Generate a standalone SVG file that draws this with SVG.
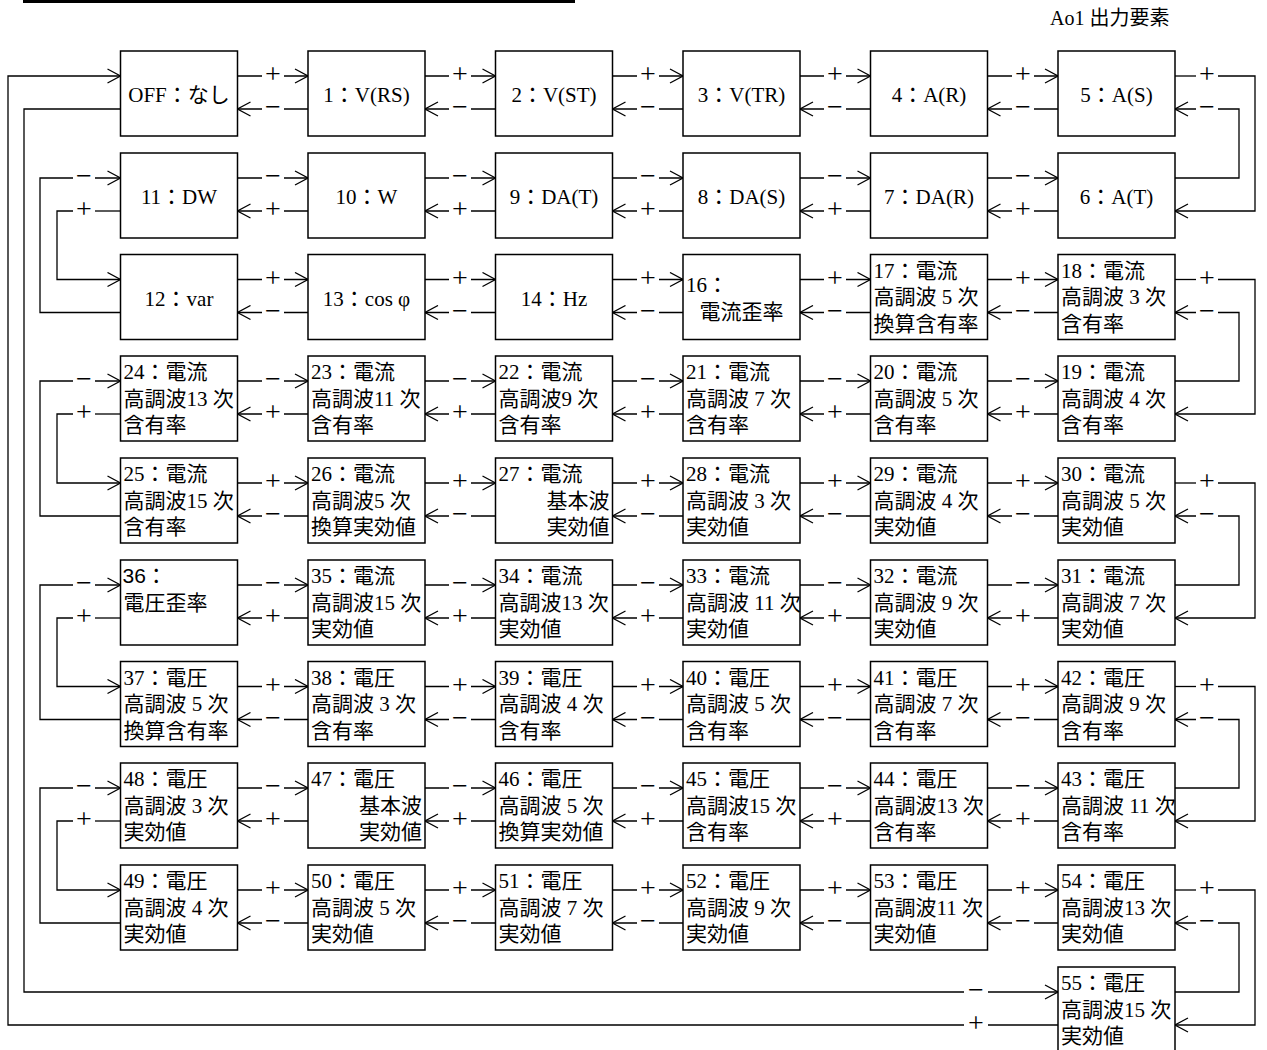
<svg xmlns="http://www.w3.org/2000/svg" width="1267" height="1050" viewBox="0 0 1267 1050">
<style>
.box{fill:#fff;stroke:#000;stroke-width:1.5}
.t{font-family:"Liberation Serif","Noto Sans CJK JP",serif;font-size:21px;fill:#000}
.c{text-anchor:middle}
.r{text-anchor:end}
.ln{fill:none;stroke:#000;stroke-width:1.3}
.a{marker-end:url(#ah)}
.lb{font-family:"Liberation Serif","DejaVu Serif",serif;font-size:28px;text-anchor:middle;fill:#000}
.sans{font-family:"Liberation Sans",sans-serif}
</style>
<defs>
<marker id="ah" markerUnits="userSpaceOnUse" markerWidth="16" markerHeight="16" viewBox="0 0 16 16" refX="15" refY="8" orient="auto"><path d="M2,1 L15,8 L2,15" fill="none" stroke="#000" stroke-width="1.3"/></marker>
</defs>
<rect x="0" y="0" width="1267" height="1050" fill="#fff"/>
<line x1="23" y1="1.5" x2="575" y2="1.5" stroke="#000" stroke-width="3"/>
<text class="t" x="1050" y="25" style="font-size:20px">Ao1 出力要素</text>

<g id="connectors">
<!-- row 0 -->
<path class="ln a" d="M237.5,76H262M284,76H308"/><path class="ln a" d="M425,76H449M471,76H495.5"/><path class="ln a" d="M612.5,76H637M659,76H683"/><path class="ln a" d="M800,76H824M846,76H870.5"/><path class="ln a" d="M987.5,76H1012M1034,76H1058"/>
<path class="ln a" d="M308,109H284M262,109H237.5"/><path class="ln a" d="M495.5,109H471M449,109H425"/><path class="ln a" d="M683,109H659M637,109H612.5"/><path class="ln a" d="M870.5,109H846M824,109H800"/><path class="ln a" d="M1058,109H1034M1012,109H987.5"/>
<text class="lb" x="273" y="83">+</text><text class="lb" x="460" y="83">+</text><text class="lb" x="648" y="83">+</text><text class="lb" x="835" y="83">+</text><text class="lb" x="1023" y="83">+</text>
<text class="lb" x="273" y="116">−</text><text class="lb" x="460" y="116">−</text><text class="lb" x="648" y="116">−</text><text class="lb" x="835" y="116">−</text><text class="lb" x="1023" y="116">−</text>
<!-- row 1 -->
<path class="ln a" d="M237.5,178H262M284,178H308"/><path class="ln a" d="M425,178H449M471,178H495.5"/><path class="ln a" d="M612.5,178H637M659,178H683"/><path class="ln a" d="M800,178H824M846,178H870.5"/><path class="ln a" d="M987.5,178H1012M1034,178H1058"/>
<path class="ln a" d="M308,211H284M262,211H237.5"/><path class="ln a" d="M495.5,211H471M449,211H425"/><path class="ln a" d="M683,211H659M637,211H612.5"/><path class="ln a" d="M870.5,211H846M824,211H800"/><path class="ln a" d="M1058,211H1034M1012,211H987.5"/>
<text class="lb" x="273" y="185">−</text><text class="lb" x="460" y="185">−</text><text class="lb" x="648" y="185">−</text><text class="lb" x="835" y="185">−</text><text class="lb" x="1023" y="185">−</text>
<text class="lb" x="273" y="218">+</text><text class="lb" x="460" y="218">+</text><text class="lb" x="648" y="218">+</text><text class="lb" x="835" y="218">+</text><text class="lb" x="1023" y="218">+</text>
<!-- row 2 -->
<path class="ln a" d="M237.5,279.5H262M284,279.5H308"/><path class="ln a" d="M425,279.5H449M471,279.5H495.5"/><path class="ln a" d="M612.5,279.5H637M659,279.5H683"/><path class="ln a" d="M800,279.5H824M846,279.5H870.5"/><path class="ln a" d="M987.5,279.5H1012M1034,279.5H1058"/>
<path class="ln a" d="M308,312.5H284M262,312.5H237.5"/><path class="ln a" d="M495.5,312.5H471M449,312.5H425"/><path class="ln a" d="M683,312.5H659M637,312.5H612.5"/><path class="ln a" d="M870.5,312.5H846M824,312.5H800"/><path class="ln a" d="M1058,312.5H1034M1012,312.5H987.5"/>
<text class="lb" x="273" y="286.5">+</text><text class="lb" x="460" y="286.5">+</text><text class="lb" x="648" y="286.5">+</text><text class="lb" x="835" y="286.5">+</text><text class="lb" x="1023" y="286.5">+</text>
<text class="lb" x="273" y="319.5">−</text><text class="lb" x="460" y="319.5">−</text><text class="lb" x="648" y="319.5">−</text><text class="lb" x="835" y="319.5">−</text><text class="lb" x="1023" y="319.5">−</text>
<!-- row 3 -->
<path class="ln a" d="M237.5,381H262M284,381H308"/><path class="ln a" d="M425,381H449M471,381H495.5"/><path class="ln a" d="M612.5,381H637M659,381H683"/><path class="ln a" d="M800,381H824M846,381H870.5"/><path class="ln a" d="M987.5,381H1012M1034,381H1058"/>
<path class="ln a" d="M308,414H284M262,414H237.5"/><path class="ln a" d="M495.5,414H471M449,414H425"/><path class="ln a" d="M683,414H659M637,414H612.5"/><path class="ln a" d="M870.5,414H846M824,414H800"/><path class="ln a" d="M1058,414H1034M1012,414H987.5"/>
<text class="lb" x="273" y="388">−</text><text class="lb" x="460" y="388">−</text><text class="lb" x="648" y="388">−</text><text class="lb" x="835" y="388">−</text><text class="lb" x="1023" y="388">−</text>
<text class="lb" x="273" y="421">+</text><text class="lb" x="460" y="421">+</text><text class="lb" x="648" y="421">+</text><text class="lb" x="835" y="421">+</text><text class="lb" x="1023" y="421">+</text>
<!-- row 4 -->
<path class="ln a" d="M237.5,483H262M284,483H308"/><path class="ln a" d="M425,483H449M471,483H495.5"/><path class="ln a" d="M612.5,483H637M659,483H683"/><path class="ln a" d="M800,483H824M846,483H870.5"/><path class="ln a" d="M987.5,483H1012M1034,483H1058"/>
<path class="ln a" d="M308,516H284M262,516H237.5"/><path class="ln a" d="M495.5,516H471M449,516H425"/><path class="ln a" d="M683,516H659M637,516H612.5"/><path class="ln a" d="M870.5,516H846M824,516H800"/><path class="ln a" d="M1058,516H1034M1012,516H987.5"/>
<text class="lb" x="273" y="490">+</text><text class="lb" x="460" y="490">+</text><text class="lb" x="648" y="490">+</text><text class="lb" x="835" y="490">+</text><text class="lb" x="1023" y="490">+</text>
<text class="lb" x="273" y="523">−</text><text class="lb" x="460" y="523">−</text><text class="lb" x="648" y="523">−</text><text class="lb" x="835" y="523">−</text><text class="lb" x="1023" y="523">−</text>
<!-- row 5 -->
<path class="ln a" d="M237.5,585H262M284,585H308"/><path class="ln a" d="M425,585H449M471,585H495.5"/><path class="ln a" d="M612.5,585H637M659,585H683"/><path class="ln a" d="M800,585H824M846,585H870.5"/><path class="ln a" d="M987.5,585H1012M1034,585H1058"/>
<path class="ln a" d="M308,618H284M262,618H237.5"/><path class="ln a" d="M495.5,618H471M449,618H425"/><path class="ln a" d="M683,618H659M637,618H612.5"/><path class="ln a" d="M870.5,618H846M824,618H800"/><path class="ln a" d="M1058,618H1034M1012,618H987.5"/>
<text class="lb" x="273" y="592">−</text><text class="lb" x="460" y="592">−</text><text class="lb" x="648" y="592">−</text><text class="lb" x="835" y="592">−</text><text class="lb" x="1023" y="592">−</text>
<text class="lb" x="273" y="625">+</text><text class="lb" x="460" y="625">+</text><text class="lb" x="648" y="625">+</text><text class="lb" x="835" y="625">+</text><text class="lb" x="1023" y="625">+</text>
<!-- row 6 -->
<path class="ln a" d="M237.5,686.5H262M284,686.5H308"/><path class="ln a" d="M425,686.5H449M471,686.5H495.5"/><path class="ln a" d="M612.5,686.5H637M659,686.5H683"/><path class="ln a" d="M800,686.5H824M846,686.5H870.5"/><path class="ln a" d="M987.5,686.5H1012M1034,686.5H1058"/>
<path class="ln a" d="M308,719.5H284M262,719.5H237.5"/><path class="ln a" d="M495.5,719.5H471M449,719.5H425"/><path class="ln a" d="M683,719.5H659M637,719.5H612.5"/><path class="ln a" d="M870.5,719.5H846M824,719.5H800"/><path class="ln a" d="M1058,719.5H1034M1012,719.5H987.5"/>
<text class="lb" x="273" y="693.5">+</text><text class="lb" x="460" y="693.5">+</text><text class="lb" x="648" y="693.5">+</text><text class="lb" x="835" y="693.5">+</text><text class="lb" x="1023" y="693.5">+</text>
<text class="lb" x="273" y="726.5">−</text><text class="lb" x="460" y="726.5">−</text><text class="lb" x="648" y="726.5">−</text><text class="lb" x="835" y="726.5">−</text><text class="lb" x="1023" y="726.5">−</text>
<!-- row 7 -->
<path class="ln a" d="M237.5,788H262M284,788H308"/><path class="ln a" d="M425,788H449M471,788H495.5"/><path class="ln a" d="M612.5,788H637M659,788H683"/><path class="ln a" d="M800,788H824M846,788H870.5"/><path class="ln a" d="M987.5,788H1012M1034,788H1058"/>
<path class="ln a" d="M308,821H284M262,821H237.5"/><path class="ln a" d="M495.5,821H471M449,821H425"/><path class="ln a" d="M683,821H659M637,821H612.5"/><path class="ln a" d="M870.5,821H846M824,821H800"/><path class="ln a" d="M1058,821H1034M1012,821H987.5"/>
<text class="lb" x="273" y="795">−</text><text class="lb" x="460" y="795">−</text><text class="lb" x="648" y="795">−</text><text class="lb" x="835" y="795">−</text><text class="lb" x="1023" y="795">−</text>
<text class="lb" x="273" y="828">+</text><text class="lb" x="460" y="828">+</text><text class="lb" x="648" y="828">+</text><text class="lb" x="835" y="828">+</text><text class="lb" x="1023" y="828">+</text>
<!-- row 8 -->
<path class="ln a" d="M237.5,890H262M284,890H308"/><path class="ln a" d="M425,890H449M471,890H495.5"/><path class="ln a" d="M612.5,890H637M659,890H683"/><path class="ln a" d="M800,890H824M846,890H870.5"/><path class="ln a" d="M987.5,890H1012M1034,890H1058"/>
<path class="ln a" d="M308,923H284M262,923H237.5"/><path class="ln a" d="M495.5,923H471M449,923H425"/><path class="ln a" d="M683,923H659M637,923H612.5"/><path class="ln a" d="M870.5,923H846M824,923H800"/><path class="ln a" d="M1058,923H1034M1012,923H987.5"/>
<text class="lb" x="273" y="897">+</text><text class="lb" x="460" y="897">+</text><text class="lb" x="648" y="897">+</text><text class="lb" x="835" y="897">+</text><text class="lb" x="1023" y="897">+</text>
<text class="lb" x="273" y="930">−</text><text class="lb" x="460" y="930">−</text><text class="lb" x="648" y="930">−</text><text class="lb" x="835" y="930">−</text><text class="lb" x="1023" y="930">−</text>

<!-- right loops -->
<path class="ln" d="M1175,76H1196"/><path class="ln a" d="M1218,76H1255V211H1175"/><text class="lb" x="1207" y="83">+</text>
<path class="ln a" d="M1175,178H1239V109H1218M1196,109H1175"/><text class="lb" x="1207" y="116">−</text>
<path class="ln" d="M1175,279.5H1196"/><path class="ln a" d="M1218,279.5H1255V414H1175"/><text class="lb" x="1207" y="286.5">+</text>
<path class="ln a" d="M1175,381H1239V312.5H1218M1196,312.5H1175"/><text class="lb" x="1207" y="319.5">−</text>
<path class="ln" d="M1175,483H1196"/><path class="ln a" d="M1218,483H1255V618H1175"/><text class="lb" x="1207" y="490">+</text>
<path class="ln a" d="M1175,585H1239V516H1218M1196,516H1175"/><text class="lb" x="1207" y="523">−</text>
<path class="ln" d="M1175,686.5H1196"/><path class="ln a" d="M1218,686.5H1255V821H1175"/><text class="lb" x="1207" y="693.5">+</text>
<path class="ln a" d="M1175,788H1239V719.5H1218M1196,719.5H1175"/><text class="lb" x="1207" y="726.5">−</text>
<path class="ln" d="M1175,890H1196"/><path class="ln a" d="M1218,890H1255V1025H1175"/><text class="lb" x="1207" y="897">+</text>
<path class="ln a" d="M1175,992H1239V923H1218M1196,923H1175"/><text class="lb" x="1207" y="930">−</text>

<!-- left loops -->
<path class="ln a" d="M120.5,312.5H40V178H73M95,178H120.5"/><text class="lb" x="84" y="185">−</text>
<path class="ln" d="M120.5,211H95"/><path class="ln a" d="M73,211H57V279.5H120.5"/><text class="lb" x="84" y="218">+</text>
<path class="ln a" d="M120.5,516H40V381H73M95,381H120.5"/><text class="lb" x="84" y="388">−</text>
<path class="ln" d="M120.5,414H95"/><path class="ln a" d="M73,414H57V483H120.5"/><text class="lb" x="84" y="421">+</text>
<path class="ln a" d="M120.5,719.5H40V585H73M95,585H120.5"/><text class="lb" x="84" y="592">−</text>
<path class="ln" d="M120.5,618H95"/><path class="ln a" d="M73,618H57V686.5H120.5"/><text class="lb" x="84" y="625">+</text>
<path class="ln a" d="M120.5,923H40V788H73M95,788H120.5"/><text class="lb" x="84" y="795">−</text>
<path class="ln" d="M120.5,821H95"/><path class="ln a" d="M73,821H57V890H120.5"/><text class="lb" x="84" y="828">+</text>

<!-- global loop -->
<path class="ln" d="M1058,1025H988"/><path class="ln a" d="M964,1025H8V76H120.5"/><text class="lb" x="976" y="1032">+</text>
<path class="ln a" d="M120.5,109H24V992H964M988,992H1058"/><text class="lb" x="976" y="999">−</text>
</g>

<!-- row 0 -->
<g id="node-off"><rect class="box" x="120.5" y="51" width="117" height="85"/><text class="t c" x="179" y="102">OFF：なし</text></g>
<g id="node-1"><rect class="box" x="308" y="51" width="117" height="85"/><text class="t c" x="366.5" y="102">1：V(RS)</text></g>
<g id="node-2"><rect class="box" x="495.5" y="51" width="117" height="85"/><text class="t c" x="554" y="102">2：V(ST)</text></g>
<g id="node-3"><rect class="box" x="683" y="51" width="117" height="85"/><text class="t c" x="741.5" y="102">3：V(TR)</text></g>
<g id="node-4"><rect class="box" x="870.5" y="51" width="117" height="85"/><text class="t c" x="929" y="102">4：A(R)</text></g>
<g id="node-5"><rect class="box" x="1058" y="51" width="117" height="85"/><text class="t c" x="1116.5" y="102">5：A(S)</text></g>
<!-- row 1 -->
<g id="node-11"><rect class="box" x="120.5" y="153" width="117" height="85"/><text class="t c" x="179" y="204">11：DW</text></g>
<g id="node-10"><rect class="box" x="308" y="153" width="117" height="85"/><text class="t c" x="366.5" y="204">10：W</text></g>
<g id="node-9"><rect class="box" x="495.5" y="153" width="117" height="85"/><text class="t c" x="554" y="204">9：DA(T)</text></g>
<g id="node-8"><rect class="box" x="683" y="153" width="117" height="85"/><text class="t c" x="741.5" y="204">8：DA(S)</text></g>
<g id="node-7"><rect class="box" x="870.5" y="153" width="117" height="85"/><text class="t c" x="929" y="204">7：DA(R)</text></g>
<g id="node-6"><rect class="box" x="1058" y="153" width="117" height="85"/><text class="t c" x="1116.5" y="204">6：A(T)</text></g>
<!-- row 2 -->
<g id="node-12"><rect class="box" x="120.5" y="254.5" width="117" height="85"/><text class="t c" x="179" y="305.5">12：var</text></g>
<g id="node-13"><rect class="box" x="308" y="254.5" width="117" height="85"/><text class="t c" x="366.5" y="305.5">13：cos φ</text></g>
<g id="node-14"><rect class="box" x="495.5" y="254.5" width="117" height="85"/><text class="t c" x="554" y="305.5">14：Hz</text></g>
<g id="node-16"><rect class="box" x="683" y="254.5" width="117" height="85"/><text class="t"><tspan x="686" y="291.5">16：</tspan><tspan class="c" x="741.5" y="318.5">電流歪率</tspan></text></g>
<g id="node-17"><rect class="box" x="870.5" y="254.5" width="117" height="85"/><text class="t"><tspan x="873.5" y="277.5">17：電流</tspan><tspan x="873.5" y="304">高調波 5 次</tspan><tspan x="873.5" y="330.5">換算含有率</tspan></text></g>
<g id="node-18"><rect class="box" x="1058" y="254.5" width="117" height="85"/><text class="t"><tspan x="1061" y="277.5">18：電流</tspan><tspan x="1061" y="304">高調波 3 次</tspan><tspan x="1061" y="330.5">含有率</tspan></text></g>
<!-- row 3 -->
<g id="node-24"><rect class="box" x="120.5" y="356" width="117" height="85"/><text class="t"><tspan x="123.5" y="379">24：電流</tspan><tspan x="123.5" y="405.5">高調波13 次</tspan><tspan x="123.5" y="432">含有率</tspan></text></g>
<g id="node-23"><rect class="box" x="308" y="356" width="117" height="85"/><text class="t"><tspan x="311" y="379">23：電流</tspan><tspan x="311" y="405.5">高調波11 次</tspan><tspan x="311" y="432">含有率</tspan></text></g>
<g id="node-22"><rect class="box" x="495.5" y="356" width="117" height="85"/><text class="t"><tspan x="498.5" y="379">22：電流</tspan><tspan x="498.5" y="405.5">高調波9 次</tspan><tspan x="498.5" y="432">含有率</tspan></text></g>
<g id="node-21"><rect class="box" x="683" y="356" width="117" height="85"/><text class="t"><tspan x="686" y="379">21：電流</tspan><tspan x="686" y="405.5">高調波 7 次</tspan><tspan x="686" y="432">含有率</tspan></text></g>
<g id="node-20"><rect class="box" x="870.5" y="356" width="117" height="85"/><text class="t"><tspan x="873.5" y="379">20：電流</tspan><tspan x="873.5" y="405.5">高調波 5 次</tspan><tspan x="873.5" y="432">含有率</tspan></text></g>
<g id="node-19"><rect class="box" x="1058" y="356" width="117" height="85"/><text class="t"><tspan x="1061" y="379">19：電流</tspan><tspan x="1061" y="405.5">高調波 4 次</tspan><tspan x="1061" y="432">含有率</tspan></text></g>
<!-- row 4 -->
<g id="node-25"><rect class="box" x="120.5" y="458" width="117" height="85"/><text class="t"><tspan x="123.5" y="481">25：電流</tspan><tspan x="123.5" y="507.5">高調波15 次</tspan><tspan x="123.5" y="534">含有率</tspan></text></g>
<g id="node-26"><rect class="box" x="308" y="458" width="117" height="85"/><text class="t"><tspan x="311" y="481">26：電流</tspan><tspan x="311" y="507.5">高調波5 次</tspan><tspan x="311" y="534">換算実効値</tspan></text></g>
<g id="node-27"><rect class="box" x="495.5" y="458" width="117" height="85"/><text class="t"><tspan x="498.5" y="481">27：電流</tspan><tspan class="r" x="609.5" y="507.5">基本波</tspan><tspan class="r" x="609.5" y="534">実効値</tspan></text></g>
<g id="node-28"><rect class="box" x="683" y="458" width="117" height="85"/><text class="t"><tspan x="686" y="481">28：電流</tspan><tspan x="686" y="507.5">高調波 3 次</tspan><tspan x="686" y="534">実効値</tspan></text></g>
<g id="node-29"><rect class="box" x="870.5" y="458" width="117" height="85"/><text class="t"><tspan x="873.5" y="481">29：電流</tspan><tspan x="873.5" y="507.5">高調波 4 次</tspan><tspan x="873.5" y="534">実効値</tspan></text></g>
<g id="node-30"><rect class="box" x="1058" y="458" width="117" height="85"/><text class="t"><tspan x="1061" y="481">30：電流</tspan><tspan x="1061" y="507.5">高調波 5 次</tspan><tspan x="1061" y="534">実効値</tspan></text></g>
<!-- row 5 -->
<g id="node-36"><rect class="box" x="120.5" y="560" width="117" height="85"/><text class="t"><tspan x="122.5" y="583"><tspan class="sans">36</tspan>：</tspan><tspan x="123.5" y="609.5">電圧歪率</tspan></text></g>
<g id="node-35"><rect class="box" x="308" y="560" width="117" height="85"/><text class="t"><tspan x="311" y="583">35：電流</tspan><tspan x="311" y="609.5">高調波15 次</tspan><tspan x="311" y="636">実効値</tspan></text></g>
<g id="node-34"><rect class="box" x="495.5" y="560" width="117" height="85"/><text class="t"><tspan x="498.5" y="583">34：電流</tspan><tspan x="498.5" y="609.5">高調波13 次</tspan><tspan x="498.5" y="636">実効値</tspan></text></g>
<g id="node-33"><rect class="box" x="683" y="560" width="117" height="85"/><text class="t"><tspan x="686" y="583">33：電流</tspan><tspan x="686" y="609.5">高調波 11 次</tspan><tspan x="686" y="636">実効値</tspan></text></g>
<g id="node-32"><rect class="box" x="870.5" y="560" width="117" height="85"/><text class="t"><tspan x="873.5" y="583">32：電流</tspan><tspan x="873.5" y="609.5">高調波 9 次</tspan><tspan x="873.5" y="636">実効値</tspan></text></g>
<g id="node-31"><rect class="box" x="1058" y="560" width="117" height="85"/><text class="t"><tspan x="1061" y="583">31：電流</tspan><tspan x="1061" y="609.5">高調波 7 次</tspan><tspan x="1061" y="636">実効値</tspan></text></g>
<!-- row 6 -->
<g id="node-37"><rect class="box" x="120.5" y="661.5" width="117" height="85"/><text class="t"><tspan x="123.5" y="684.5">37：電圧</tspan><tspan x="123.5" y="711">高調波 5 次</tspan><tspan x="123.5" y="737.5">換算含有率</tspan></text></g>
<g id="node-38"><rect class="box" x="308" y="661.5" width="117" height="85"/><text class="t"><tspan x="311" y="684.5">38：電圧</tspan><tspan x="311" y="711">高調波 3 次</tspan><tspan x="311" y="737.5">含有率</tspan></text></g>
<g id="node-39"><rect class="box" x="495.5" y="661.5" width="117" height="85"/><text class="t"><tspan x="498.5" y="684.5">39：電圧</tspan><tspan x="498.5" y="711">高調波 4 次</tspan><tspan x="498.5" y="737.5">含有率</tspan></text></g>
<g id="node-40"><rect class="box" x="683" y="661.5" width="117" height="85"/><text class="t"><tspan x="686" y="684.5">40：電圧</tspan><tspan x="686" y="711">高調波 5 次</tspan><tspan x="686" y="737.5">含有率</tspan></text></g>
<g id="node-41"><rect class="box" x="870.5" y="661.5" width="117" height="85"/><text class="t"><tspan x="873.5" y="684.5">41：電圧</tspan><tspan x="873.5" y="711">高調波 7 次</tspan><tspan x="873.5" y="737.5">含有率</tspan></text></g>
<g id="node-42"><rect class="box" x="1058" y="661.5" width="117" height="85"/><text class="t"><tspan x="1061" y="684.5">42：電圧</tspan><tspan x="1061" y="711">高調波 9 次</tspan><tspan x="1061" y="737.5">含有率</tspan></text></g>
<!-- row 7 -->
<g id="node-48"><rect class="box" x="120.5" y="763" width="117" height="85"/><text class="t"><tspan x="123.5" y="786">48：電圧</tspan><tspan x="123.5" y="812.5">高調波 3 次</tspan><tspan x="123.5" y="839">実効値</tspan></text></g>
<g id="node-47"><rect class="box" x="308" y="763" width="117" height="85"/><text class="t"><tspan x="311" y="786">47：電圧</tspan><tspan class="r" x="422" y="812.5">基本波</tspan><tspan class="r" x="422" y="839">実効値</tspan></text></g>
<g id="node-46"><rect class="box" x="495.5" y="763" width="117" height="85"/><text class="t"><tspan x="498.5" y="786">46：電圧</tspan><tspan x="498.5" y="812.5">高調波 5 次</tspan><tspan x="498.5" y="839">換算実効値</tspan></text></g>
<g id="node-45"><rect class="box" x="683" y="763" width="117" height="85"/><text class="t"><tspan x="686" y="786">45：電圧</tspan><tspan x="686" y="812.5">高調波15 次</tspan><tspan x="686" y="839">含有率</tspan></text></g>
<g id="node-44"><rect class="box" x="870.5" y="763" width="117" height="85"/><text class="t"><tspan x="873.5" y="786">44：電圧</tspan><tspan x="873.5" y="812.5">高調波13 次</tspan><tspan x="873.5" y="839">含有率</tspan></text></g>
<g id="node-43"><rect class="box" x="1058" y="763" width="117" height="85"/><text class="t"><tspan x="1061" y="786">43：電圧</tspan><tspan x="1061" y="812.5">高調波 11 次</tspan><tspan x="1061" y="839">含有率</tspan></text></g>
<!-- row 8 -->
<g id="node-49"><rect class="box" x="120.5" y="865" width="117" height="85"/><text class="t"><tspan x="123.5" y="888">49：電圧</tspan><tspan x="123.5" y="914.5">高調波 4 次</tspan><tspan x="123.5" y="941">実効値</tspan></text></g>
<g id="node-50"><rect class="box" x="308" y="865" width="117" height="85"/><text class="t"><tspan x="311" y="888">50：電圧</tspan><tspan x="311" y="914.5">高調波 5 次</tspan><tspan x="311" y="941">実効値</tspan></text></g>
<g id="node-51"><rect class="box" x="495.5" y="865" width="117" height="85"/><text class="t"><tspan x="498.5" y="888">51：電圧</tspan><tspan x="498.5" y="914.5">高調波 7 次</tspan><tspan x="498.5" y="941">実効値</tspan></text></g>
<g id="node-52"><rect class="box" x="683" y="865" width="117" height="85"/><text class="t"><tspan x="686" y="888">52：電圧</tspan><tspan x="686" y="914.5">高調波 9 次</tspan><tspan x="686" y="941">実効値</tspan></text></g>
<g id="node-53"><rect class="box" x="870.5" y="865" width="117" height="85"/><text class="t"><tspan x="873.5" y="888">53：電圧</tspan><tspan x="873.5" y="914.5">高調波11 次</tspan><tspan x="873.5" y="941">実効値</tspan></text></g>
<g id="node-54"><rect class="box" x="1058" y="865" width="117" height="85"/><text class="t"><tspan x="1061" y="888">54：電圧</tspan><tspan x="1061" y="914.5">高調波13 次</tspan><tspan x="1061" y="941">実効値</tspan></text></g>
<!-- row 9 -->
<g id="node-55"><rect class="box" x="1058" y="967" width="117" height="85"/><text class="t"><tspan x="1061" y="990">55：電圧</tspan><tspan x="1061" y="1016.5">高調波15 次</tspan><tspan x="1061" y="1043">実効値</tspan></text></g>
</svg>
